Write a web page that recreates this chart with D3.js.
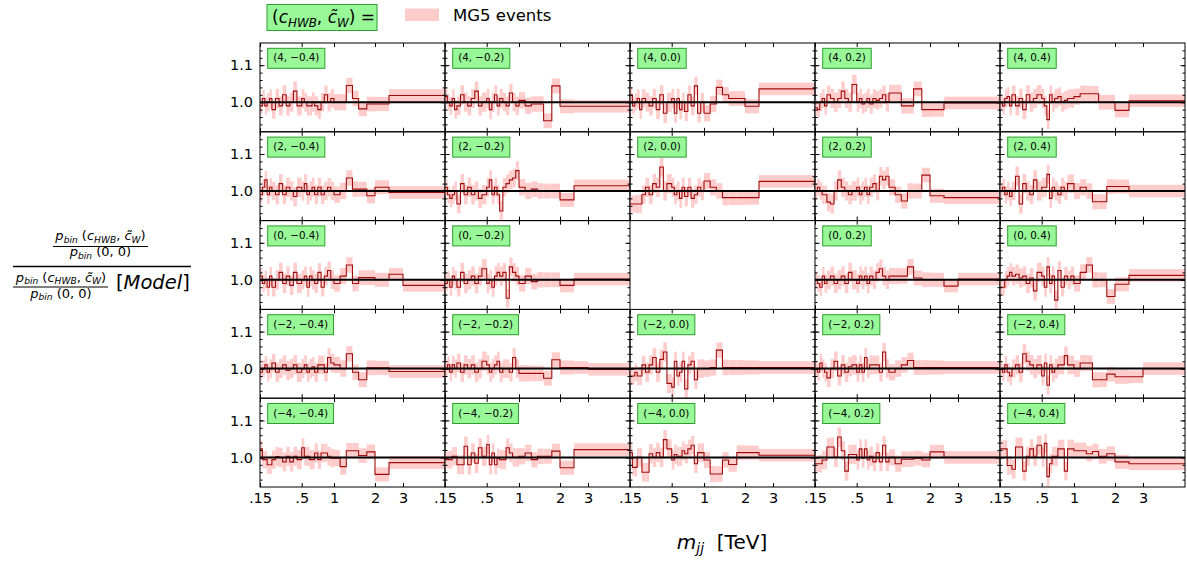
<!DOCTYPE html>
<html>
<head>
<meta charset="utf-8">
<script src="https://cdn.jsdelivr.net/npm/d3@7"></script>
<style>
body { margin: 0; background: #fff; }
svg text { font-family: "DejaVu Sans", sans-serif; fill: #000; }
</style>
</head>
<body>
<div class="canvas"></div>
<script>
// grid of coefficient values: rows = c_HWB, columns = c~_W
const cHWB = [4, 2, 0, -2, -4];
const cW = [-0.4, -0.2, 0.0, 0.2, 0.4];

// m_jj bins [TeV]
const binEdges = [0.15, 0.17, 0.19, 0.21, 0.23, 0.25, 0.28, 0.31, 0.34, 0.37, 0.40, 0.43, 0.46, 0.50,
  0.54, 0.58, 0.62, 0.66, 0.70, 0.75, 0.80, 0.85, 0.90, 0.95, 1.0, 1.15, 1.3, 1.45, 1.6, 1.8, 2.0, 2.5, 3.0, 5.0];
// half width of the MG5 band, per bin
const binErr = [0.022, 0.023, 0.024, 0.025, 0.025, 0.025, 0.026, 0.026, 0.026, 0.026, 0.026, 0.026, 0.026, 0.026,
  0.026, 0.026, 0.026, 0.026, 0.026, 0.025, 0.025, 0.025, 0.025, 0.025, 0.022, 0.022, 0.021, 0.021, 0.02, 0.02,
  0.019, 0.017, 0.017];

const xTicks = [0.15, 0.5, 1, 2, 3];
const xTickLabels = [".15", ".5", "1", "2", "3"];
const yMajor = [1.0, 1.1];
const yMinor = [0.94, 0.96, 0.98, 1.0, 1.02, 1.04, 1.06, 1.08, 1.1, 1.12, 1.14];

// ratio per bin, one array per panel
const r_4_m04 = [0.99, 1.01, 0.99, 1.0, 1.01, 0.98, 1.01, 0.99, 1.02, 0.99, 1.0, 1.03, 0.99, 1.01, 1.0, 0.99, 0.99, 1.0, 0.99, 0.98, 1.0, 1.02, 1.0, 1.01, 1.0, 1.0, 1.045, 1.01, 0.982, 0.995, 0.995, 1.018, 1.018];
const r_4_m02 = [1.015, 1.0, 0.99, 1.01, 0.98, 0.99, 1.02, 1.0, 0.99, 1.01, 1.03, 0.99, 1.0, 1.01, 0.98, 1.0, 1.02, 0.99, 1.01, 1.0, 0.99, 1.025, 1.0, 0.99, 1.005, 0.99, 0.995, 0.995, 0.95, 1.044, 0.989, 0.989, 0.989];
const r_4_00 = [1.02, 0.99, 1.0, 1.01, 0.98, 1.01, 1.0, 0.99, 1.01, 0.98, 1.02, 0.97, 1.0, 1.01, 0.97, 1.01, 0.98, 1.0, 0.975, 1.02, 0.99, 1.044, 0.97, 1.0, 0.97, 0.995, 1.04, 1.02, 1.01, 1.01, 0.989, 1.036, 1.036];
const r_4_p02 = [0.985, 0.98, 1.0, 1.01, 0.99, 1.02, 1.01, 1.0, 1.01, 1.03, 1.01, 1.0, 1.048, 1.0, 1.01, 0.995, 1.0, 1.01, 0.995, 1.01, 1.005, 1.01, 1.02, 1.0, 1.025, 1.025, 0.99, 0.99, 1.036, 0.98, 0.98, 0.998, 0.998];
const r_4_p04 = [1.0, 0.99, 1.01, 1.015, 0.99, 1.02, 0.99, 1.01, 0.98, 1.02, 1.0, 1.01, 1.02, 1.01, 0.99, 0.953, 1.02, 1.0, 1.01, 1.015, 1.0, 1.005, 1.01, 1.01, 1.015, 1.023, 1.023, 1.023, 1.0, 1.0, 0.978, 1.004, 1.004];

const r_2_m04 = [0.99, 1.01, 1.03, 0.99, 1.01, 1.0, 0.99, 1.02, 0.99, 1.01, 1.0, 0.985, 1.01, 1.0, 1.02, 0.99, 1.0, 1.01, 0.99, 1.01, 0.99, 1.0, 1.01, 1.0, 0.99, 1.0, 1.035, 1.005, 1.005, 0.987, 1.01, 0.996, 0.996];
const r_2_m02 = [1.01, 0.99, 0.98, 0.99, 1.0, 0.965, 1.02, 0.99, 1.01, 0.99, 1.0, 0.98, 0.99, 1.01, 1.03, 0.99, 1.01, 0.99, 0.946, 1.01, 1.02, 1.03, 1.035, 1.055, 1.01, 1.0, 1.005, 1.0, 1.0, 1.0, 0.976, 1.014, 1.014];
const r_2_00 = [0.965, 0.965, 0.965, 0.965, 0.965, 0.99, 1.01, 0.99, 1.02, 1.01, 1.065, 1.0, 1.02, 1.01, 0.99, 1.0, 0.98, 1.01, 0.985, 1.01, 0.98, 0.99, 1.01, 1.0, 1.027, 1.01, 1.0, 0.982, 0.982, 0.982, 0.982, 1.026, 1.026];
const r_2_p02 = [1.0, 1.01, 1.0, 0.99, 0.99, 0.97, 0.965, 1.0, 1.03, 1.01, 1.0, 0.99, 1.0, 1.01, 0.99, 1.0, 1.01, 0.99, 1.01, 1.02, 1.0, 1.04, 1.03, 1.04, 1.01, 0.99, 0.973, 1.0, 1.0, 1.043, 0.987, 0.982, 0.982];
const r_2_p04 = [1.0, 1.01, 0.99, 1.0, 0.985, 1.0, 1.04, 0.965, 1.02, 1.0, 0.99, 1.03, 1.0, 1.01, 1.01, 1.045, 0.98, 1.01, 1.0, 0.99, 1.01, 1.0, 1.02, 1.02, 1.0, 1.01, 1.0, 0.971, 0.971, 1.012, 1.012, 1.0, 1.0];

const r_0_m04 = [1.01, 0.99, 1.0, 0.98, 1.01, 0.98, 1.0, 1.02, 0.99, 1.01, 0.985, 1.02, 0.99, 1.0, 1.01, 0.98, 1.01, 1.0, 0.99, 1.02, 0.98, 1.01, 1.025, 1.0, 0.99, 1.01, 1.04, 0.99, 1.006, 1.006, 1.0, 1.015, 0.985];
const r_0_m02 = [0.99, 1.0, 0.98, 1.01, 1.0, 0.98, 1.02, 0.99, 1.0, 1.01, 0.99, 1.01, 1.03, 0.99, 1.0, 0.98, 1.01, 1.02, 1.01, 1.02, 0.95, 1.035, 1.02, 1.01, 0.99, 1.01, 0.995, 1.0, 1.0, 1.0, 0.985, 1.002, 1.002];
const r_0_p02 = [1.0, 0.99, 0.98, 1.01, 0.99, 1.0, 1.01, 0.99, 1.0, 1.01, 0.99, 1.02, 1.0, 0.99, 1.01, 1.0, 1.01, 0.99, 1.01, 1.0, 1.02, 1.03, 1.01, 1.0, 1.01, 1.01, 1.01, 1.035, 1.005, 1.0, 1.0, 0.983, 1.002];
const r_0_p04 = [0.98, 0.98, 1.0, 1.01, 1.02, 1.01, 1.015, 1.005, 1.01, 0.99, 1.005, 0.97, 1.02, 1.01, 0.98, 1.035, 0.99, 1.01, 0.945, 1.025, 0.98, 1.01, 1.0, 1.01, 0.99, 1.02, 1.04, 1.0, 1.0, 0.955, 0.988, 1.012, 1.012];

const r_m2_m04 = [0.99, 1.0, 1.01, 0.99, 1.0, 1.015, 0.99, 1.0, 1.01, 0.995, 1.0, 1.01, 0.99, 1.0, 1.01, 0.99, 1.0, 1.005, 0.99, 1.01, 1.01, 0.99, 1.03, 1.015, 1.01, 1.0, 1.04, 0.99, 0.97, 1.002, 1.002, 0.992, 0.992];
const r_m2_m02 = [1.0, 1.01, 0.99, 1.01, 1.0, 1.015, 0.99, 1.01, 1.0, 1.01, 0.99, 1.0, 1.02, 1.01, 0.99, 1.0, 1.01, 1.02, 0.99, 1.0, 1.0, 0.99, 1.03, 1.0, 0.987, 0.987, 0.987, 0.987, 0.974, 1.024, 1.003, 1.003, 0.998];
const r_m2_00 = [0.98, 0.98, 0.99, 0.98, 0.98, 1.01, 0.99, 1.01, 1.03, 0.99, 1.025, 1.045, 0.96, 0.95, 1.02, 0.98, 0.99, 1.02, 0.945, 1.01, 1.02, 0.97, 1.0, 1.0, 1.0, 1.003, 1.05, 1.003, 1.003, 1.003, 1.003, 1.003, 1.003];
const r_m2_p02 = [1.0, 0.99, 1.015, 1.0, 0.99, 0.975, 1.0, 1.02, 0.98, 1.01, 0.99, 1.005, 1.01, 0.99, 1.01, 0.99, 1.03, 1.0, 1.01, 1.01, 1.01, 0.99, 1.045, 1.0, 0.99, 1.0, 1.01, 1.022, 1.003, 1.003, 1.003, 1.003, 1.003];
const r_m2_p04 = [1.0, 0.99, 1.01, 0.99, 0.98, 1.0, 1.01, 0.99, 1.04, 1.02, 1.01, 1.0, 1.01, 0.98, 1.015, 0.955, 1.01, 0.99, 1.0, 1.01, 1.01, 1.035, 1.01, 1.01, 1.0, 1.015, 1.015, 0.97, 0.97, 0.985, 0.978, 0.978, 1.0];

const r_m4_m04 = [1.023, 0.994, 0.994, 0.98, 0.98, 0.994, 1.002, 1.0, 0.988, 1.003, 0.988, 1.003, 0.994, 1.026, 1.003, 1.003, 0.994, 0.994, 1.012, 0.994, 1.012, 1.012, 1.003, 0.998, 0.998, 0.975, 1.018, 1.018, 1.005, 1.015, 0.954, 0.986, 0.986];
const r_m4_m02 = [0.994, 0.994, 0.994, 1.003, 1.003, 0.98, 0.98, 1.03, 0.98, 1.012, 0.984, 1.026, 1.003, 1.035, 0.98, 1.012, 0.98, 0.998, 0.994, 0.994, 1.026, 1.012, 1.0, 1.0, 1.003, 1.012, 0.994, 1.003, 1.003, 1.017, 0.972, 1.021, 1.021];
const r_m4_00 = [1.013, 0.973, 0.973, 1.0, 1.0, 0.96, 0.96, 1.01, 1.0, 1.013, 1.0, 1.048, 1.023, 0.993, 1.008, 1.003, 1.003, 1.018, 1.01, 1.023, 1.033, 0.983, 1.013, 1.013, 0.993, 0.955, 0.955, 0.993, 0.981, 1.013, 1.013, 1.006, 1.006];
const r_m4_p02 = [0.983, 0.983, 0.983, 0.993, 0.993, 1.028, 1.028, 1.0, 1.055, 1.018, 0.963, 1.008, 1.008, 0.993, 1.023, 0.998, 1.023, 0.993, 1.003, 0.988, 1.013, 0.988, 1.033, 0.988, 1.0, 0.983, 0.995, 0.995, 0.998, 0.993, 1.015, 1.0, 1.0];
const r_m4_p04 = [1.023, 1.023, 1.023, 0.978, 0.978, 0.968, 1.028, 1.028, 0.963, 1.003, 1.023, 1.003, 1.033, 1.0, 1.038, 0.948, 0.983, 1.003, 1.003, 1.023, 1.023, 0.963, 1.023, 1.023, 1.018, 1.018, 1.01, 1.016, 1.003, 1.01, 0.988, 0.983, 0.983];

// rows follow cHWB, columns follow cW; null = no panel (SM point)
const panels = [
    [r_4_m04, r_4_m02, r_4_00, r_4_p02, r_4_p04],
    [r_2_m04, r_2_m02, r_2_00, r_2_p02, r_2_p04],
    [r_0_m04, r_0_m02, null, r_0_p02, r_0_p04],
    [r_m2_m04, r_m2_m02, r_m2_00, r_m2_p02, r_m2_p04],
    [r_m4_m04, r_m4_m02, r_m4_00, r_m4_p02, r_m4_p04]
];

const gridLeft = 260, gridTop = 43;
const W = 185, H = 88.8;

const svg = d3.select(".canvas")
    .append("svg")
    .attr("width", 1187)
    .attr("height", 566);

// m_jj axis is not linear in the original: piecewise mapping of the tick positions
const x = d3.scaleLinear()
    .domain([0.15, 0.5, 1, 2, 3, 5])
    .range([0, 41.7, 74, 115, 143, W]);
const y = d3.scaleLinear()
    .domain([0.92, 1.16])
    .range([H, 0]);

const fmt = v => (v < 0 ? "\u2212" : "") + Math.abs(v);
const fmt1 = v => (v < 0 ? "\u2212" : "") + Math.abs(v).toFixed(1);

svg.append("defs").append("clipPath").attr("id", "pclip")
    .append("rect").attr("width", W).attr("height", H);

panels.forEach((row, r) => {
    row.forEach((vals, c) => {
        if (!vals) return;
        const g = svg.append("g")
            .attr("transform", "translate(" + (gridLeft + c * W) + "," + (gridTop + r * H) + ")");

        const inner = g.append("g").attr("clip-path", "url(#pclip)");

        // MG5 band
        inner.selectAll("rect.band")
            .data(vals)
            .join("rect")
            .attr("class", "band")
            .attr("x", (d, i) => x(binEdges[i]))
            .attr("width", (d, i) => x(binEdges[i + 1]) - x(binEdges[i]))
            .attr("y", (d, i) => y(d + binErr[i]))
            .attr("height", (d, i) => y(d - binErr[i]) - y(d + binErr[i]))
            .attr("fill", "#ffcccc");

        // step line
        const pts = vals.map((v, i) => [binEdges[i], v]);
        pts.push([binEdges[binEdges.length - 1], vals[vals.length - 1]]);
        inner.append("path")
            .attr("d", d3.line().x(d => x(d[0])).y(d => y(d[1])).curve(d3.curveStepAfter)(pts))
            .attr("fill", "none")
            .attr("stroke", "#a00c0c")
            .attr("stroke-width", 1.1);

        // model reference at 1
        inner.append("line")
            .attr("x1", 0).attr("x2", W)
            .attr("y1", y(1)).attr("y2", y(1))
            .attr("stroke", "#000")
            .attr("stroke-width", 2);

        // ticks
        const bottom = g.append("g")
            .attr("transform", "translate(0," + H + ")")
            .call(d3.axisBottom(x).tickValues(xTicks).tickSizeInner(-4).tickSizeOuter(0).tickPadding(6)
                .tickFormat(r === 4 ? (d, i) => xTickLabels[i] : ""));
        g.append("g")
            .call(d3.axisTop(x).tickValues(xTicks).tickSizeInner(-4).tickSizeOuter(0).tickFormat(""));
        g.append("g")
            .call(d3.axisLeft(y).tickValues(yMinor).tickSizeInner(-2.5).tickSizeOuter(0).tickFormat(""));
        const left = g.append("g")
            .call(d3.axisLeft(y).tickValues(yMajor).tickSizeInner(-4.5).tickSizeOuter(0).tickPadding(7)
                .tickFormat(c === 0 ? d3.format(".1f") : ""));
        g.append("g")
            .attr("transform", "translate(" + W + ",0)")
            .call(d3.axisRight(y).tickValues(yMinor).tickSizeInner(-2.5).tickSizeOuter(0).tickFormat(""));
        g.append("g")
            .attr("transform", "translate(" + W + ",0)")
            .call(d3.axisRight(y).tickValues(yMajor).tickSizeInner(-4.5).tickSizeOuter(0).tickFormat(""));

        g.selectAll(".domain").remove();
        g.selectAll(".tick line").attr("stroke", "#000").attr("stroke-width", 1);
        g.selectAll(".tick text").attr("font-family", null).attr("font-size", 14.5).attr("fill", "#000");
        bottom.attr("font-family", null);
        left.attr("font-family", null);

        // frame
        g.append("rect")
            .attr("width", W).attr("height", H)
            .attr("fill", "none")
            .attr("stroke", "#000")
            .attr("stroke-width", 1);

        // panel label
        const lab = g.append("g").attr("transform", "translate(7.7,5.3)");
        const t = lab.append("text")
            .attr("x", 5.5).attr("y", 13.2)
            .attr("font-size", 10.3)
            .text("(" + fmt(cHWB[r]) + ", " + fmt1(cW[c]) + ")");
        const tw = t.node().getComputedTextLength();
        lab.insert("rect", "text")
            .attr("width", tw + 11).attr("height", 20)
            .attr("fill", "#98f898")
            .attr("stroke", "#2e9e2e")
            .attr("stroke-width", 1);
    });
});

// text with italic parts and subscripts, roughly like mathtext
function mathText(sel, xx, yy, size, parts, anchor) {
    const t = sel.append("text")
        .attr("x", xx).attr("y", yy)
        .attr("font-size", size)
        .attr("text-anchor", anchor || "start")
        .style("white-space", "pre");
    let shifted = false;
    parts.forEach(p => {
        const s = t.append("tspan").text(p.t);
        if (p.i) s.attr("font-style", "italic");
        if (p.sub) {
            s.attr("font-size", size * 0.7);
            if (!shifted) { s.attr("dy", size * 0.22); shifted = true; }
        } else if (shifted) {
            s.attr("dy", -size * 0.22);
            shifted = false;
        }
    });
    return t;
}

const pNum = [{ t: "p", i: 1 }, { t: "bin", i: 1, sub: 1 }, { t: " (" }, { t: "c", i: 1 }, { t: "HWB", i: 1, sub: 1 },
    { t: ", " }, { t: "c\u0303", i: 1 }, { t: "W", i: 1, sub: 1 }, { t: ")" }];
const pDen = [{ t: "p", i: 1 }, { t: "bin", i: 1, sub: 1 }, { t: " (0, 0)" }];

// y label: ratio of ratios
const yl = svg.append("g");
mathText(yl, 100.5, 240, 13, pNum, "middle");
yl.append("line").attr("x1", 53).attr("x2", 148).attr("y1", 246.5).attr("y2", 246.5).attr("stroke", "#000").attr("stroke-width", 1);
mathText(yl, 100.5, 256, 13, pDen, "middle");
yl.append("line").attr("x1", 13).attr("x2", 191).attr("y1", 266.5).attr("y2", 266.5).attr("stroke", "#000").attr("stroke-width", 1.5);
mathText(yl, 61, 281.5, 13, pNum, "middle");
yl.append("line").attr("x1", 13).attr("x2", 108).attr("y1", 287).attr("y2", 287).attr("stroke", "#000").attr("stroke-width", 1);
mathText(yl, 61, 297.5, 13, pDen, "middle");
mathText(yl, 116, 289, 19.5, [{ t: "[" }, { t: "Model", i: 1 }, { t: "]" }]);

// x label
mathText(svg, 722, 549, 20, [{ t: "m", i: 1 }, { t: "jj", i: 1, sub: 1 }, { t: "\u00a0\u00a0[TeV]" }], "middle");

// legend
const lg = svg.append("g");
lg.append("rect")
    .attr("x", 267).attr("y", 4.5).attr("width", 110).attr("height", 26)
    .attr("fill", "#98f898").attr("stroke", "#2e9e2e").attr("stroke-width", 1);
mathText(lg, 272, 23, 17, [{ t: "(" }, { t: "c", i: 1 }, { t: "HWB", i: 1, sub: 1 }, { t: ", " },
    { t: "c\u0303", i: 1 }, { t: "W", i: 1, sub: 1 }, { t: ") =" }]);
lg.append("rect")
    .attr("x", 405).attr("y", 8.5).attr("width", 34).attr("height", 12.5)
    .attr("fill", "#ffcccc");
lg.append("text")
    .attr("x", 453).attr("y", 20.7)
    .attr("font-size", 16.5)
    .text("MG5 events");
</script>
</body>
</html>
